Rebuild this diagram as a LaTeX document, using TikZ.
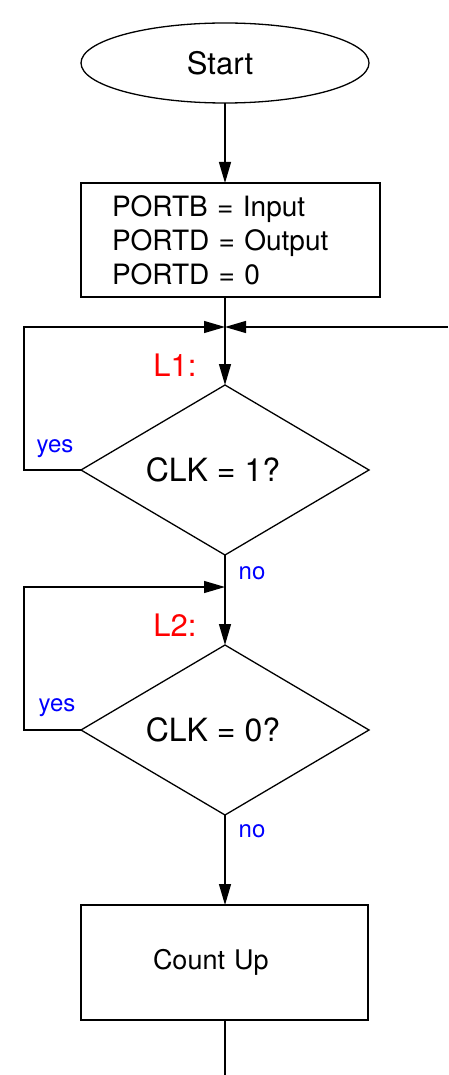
\documentclass[tikz,border=0pt]{standalone}
\usepackage{fontspec}
\setmainfont{TeX Gyre Heros}
\usetikzlibrary{shapes.geometric,arrows.meta}
\begin{document}
\begin{tikzpicture}[x=1pt,y=-1pt,line width=1.3pt,
  arr/.style={-{Triangle[length=21pt,width=12pt]}},
  boxnode/.style={draw,rectangle,inner ysep=0pt,outer sep=0pt},
  decision/.style={draw,diamond,minimum width=288pt,minimum height=170pt,inner sep=0pt,outer sep=0pt,font=\fontsize{32}{36}\selectfont},
  lbl/.style={text=red,font=\fontsize{31}{36}\selectfont,inner sep=0pt},
  ans/.style={text=blue,font=\fontsize{24}{28}\selectfont,inner sep=0pt}]
\useasboundingbox (0,0) rectangle (448,1075);
\node[draw,ellipse,minimum width=288pt,minimum height=80pt,inner sep=0pt,outer sep=0pt,font=\fontsize{31}{36}\selectfont] (start) at (225,63) {\hspace*{-10pt}Start};
\node[boxnode,minimum width=299pt,minimum height=114pt,inner xsep=31pt,text width=237pt,align=left,font=\fontsize{28}{34}\selectfont] (b1) at (230.5,240) {PORTB = Input\\PORTD = Output\\PORTD = 0};
\coordinate (j1) at (225,327);
\coordinate (r1) at (448,327);
\node[decision] (d1) at (225,470) {\hspace*{-24pt}CLK = 1?};
\coordinate (j2) at (225,587);
\node[decision] (d2) at (225,730) {\hspace*{-24pt}CLK = 0?};
\node[boxnode,minimum width=287pt,minimum height=115pt,inner xsep=72pt,text width=143pt,align=left,font=\fontsize{27}{32}\selectfont] (b2) at (224.5,962.5) {Count Up};
\coordinate (e) at (225,1075);
\draw[arr] (start.south) -- (start.south |- b1.north);
\draw (start.south |- b1.south) -- (j1);
\draw[arr] (j1) -- (d1.north);
\draw[arr] (d1.west) -- ++(-57,0) |- (j1);
\draw[arr] (r1) -- (j1);
\draw (d1.south) -- (j2);
\draw[arr] (j2) -- (d2.north);
\draw[arr] (d2.west) -- ++(-57,0) |- (j2);
\draw[arr] (d2.south) -- (d2.south |- b2.north);
\draw (d2.south |- b2.south) -- (e);
\node[lbl] (l1) at (175,365) {L1:};
\node[lbl] (l2) at (175,625) {L2:};
\node[ans] (y1) at (55,449) {yes};
\node[ans] (y2) at (57,708) {yes};
\node[ans] (n1) at (252,573) {no};
\node[ans] (n2) at (252,831) {no};
\end{tikzpicture}
\end{document}
